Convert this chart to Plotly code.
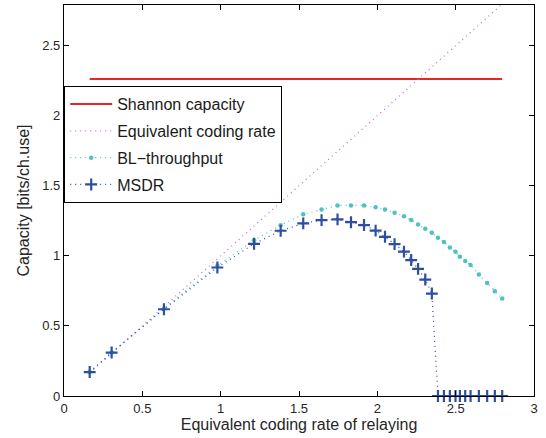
import plotly.graph_objects as go

rate = [0.164, 0.304, 0.638, 0.979, 1.213, 1.383, 1.527, 1.644, 1.746, 1.832,
        1.915, 1.989, 2.049, 2.110, 2.170, 2.216, 2.260, 2.306, 2.348, 2.387,
        2.425, 2.463, 2.499, 2.527, 2.561, 2.595, 2.648, 2.701, 2.750, 2.797]
shannon = [2.262] * len(rate)
equiv_rate = [0.164, 0.304, 0.638, 0.979, 1.213, 1.383, 1.527, 1.644, 1.746, 1.832,
              1.915, 1.989, 2.049, 2.110, 2.170, 2.216, 2.260, 2.306, 2.348, 2.387,
              2.425, 2.463, 2.499, 2.527, 2.561, 2.595, 2.648, 2.701, 2.750, 2.797]
bl_throughput = [0.171, 0.310, 0.625, 0.930, 1.112, 1.219, 1.296, 1.331, 1.360, 1.360,
                 1.360, 1.346, 1.331, 1.307, 1.283, 1.255, 1.224, 1.193, 1.164, 1.129,
                 1.098, 1.060, 1.029, 0.993, 0.964, 0.934, 0.867, 0.807, 0.748, 0.696]
msdr = [0.171, 0.310, 0.619, 0.917, 1.086, 1.179, 1.232, 1.255, 1.260, 1.240,
        1.220, 1.180, 1.136, 1.084, 1.030, 0.970, 0.907, 0.831, 0.731, 0.0,
        0.0, 0.0, 0.0, 0.0, 0.0, 0.0, 0.0, 0.0, 0.0, 0.0]

FONT = "Liberation Sans, Arial, sans-serif"
fig = go.Figure()
fig.add_trace(go.Scatter(x=rate, y=shannon, mode="lines", name="Shannon capacity",
                         line=dict(color="#e8262a", width=2), legendgroup="a"))
fig.add_trace(go.Scatter(x=rate, y=equiv_rate, mode="lines", name="Equivalent coding rate",
                         line=dict(color="#d070d0", width=1.3, dash="1px,4px"), legendgroup="b"))
fig.add_trace(go.Scatter(x=rate, y=bl_throughput, mode="lines+markers", name="BL\u2212throughput",
                         line=dict(color="#4fc1c1", width=1.2, dash="1px,4px"),
                         marker=dict(symbol="circle", size=4.5, color="#4fc1c1"), legendgroup="c"))
fig.add_trace(go.Scatter(x=rate, y=msdr, mode="lines+markers", name="MSDR", cliponaxis=False,
                         line=dict(color="#2e4fa0", width=1.2, dash="1px,4px"),
                         marker=dict(symbol="cross-thin", size=8.5, color="#2e4fa0",
                                     line=dict(color="#2e4fa0", width=2.2)), legendgroup="d"))

axis_common = dict(showline=True, linecolor="black", linewidth=1.3, mirror="ticks",
                   ticks="inside", ticklen=5, tickcolor="black", showgrid=False,
                   zeroline=False, automargin=False,
                   tickfont=dict(family=FONT, size=13, color="#262626"))
fig.update_layout(
    width=546, height=438,
    margin=dict(l=64, r=12, t=5, b=42),
    plot_bgcolor="white", paper_bgcolor="white",
    font=dict(family=FONT, color="#262626"),
    xaxis=dict(range=[0, 3], tickvals=[0, 0.5, 1, 1.5, 2, 2.5, 3],
               ticktext=["0", "0.5", "1", "1.5", "2", "2.5", "3"],
               title=dict(text="Equivalent coding rate of relaying", font=dict(family=FONT, size=16), standoff=4),
               **axis_common),
    yaxis=dict(range=[0, 2.79], tickvals=[0, 0.5, 1, 1.5, 2, 2.5],
               ticktext=["0", "0.5", "1", "1.5", "2", "2.5"],
               title=dict(text="Capacity [bits/ch.use]", font=dict(family=FONT, size=16), standoff=8),
               **axis_common),
    legend=dict(x=0, y=0.793, xanchor="left", yanchor="top", bgcolor="white",
                bordercolor="black", borderwidth=1.2, font=dict(family=FONT, size=16, color="#1a1a1a"),
                traceorder="grouped", tracegroupgap=3, itemwidth=42),
    showlegend=True,
)
fig.write_html("out.html", config={"displayModeBar": False},
               post_script="document.body.style.margin='0';document.body.style.overflow='hidden';")
